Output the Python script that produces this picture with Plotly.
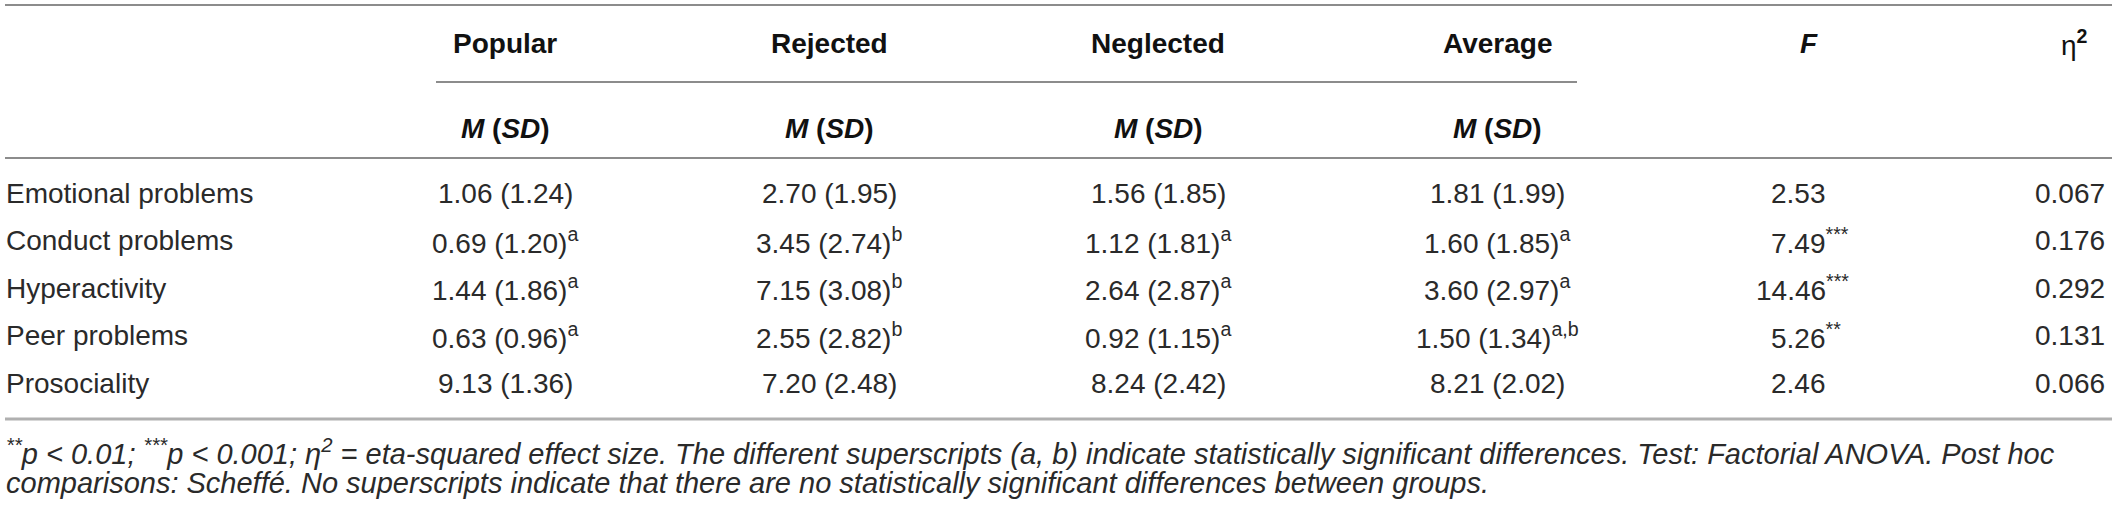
import plotly.graph_objects as go

# datos de la tabla
row_labels = ["Emotional problems", "Conduct problems", "Hyperactivity", "Peer problems", "Prosociality"]
group_names = ["Popular", "Rejected", "Neglected", "Average"]

popular_m = [1.06, 0.69, 1.44, 0.63, 9.13]
popular_sd = [1.24, 1.20, 1.86, 0.96, 1.36]
popular_sup = ["", "a", "a", "a", ""]

rejected_m = [2.70, 3.45, 7.15, 2.55, 7.20]
rejected_sd = [1.95, 2.74, 3.08, 2.82, 2.48]
rejected_sup = ["", "b", "b", "b", ""]

neglected_m = [1.56, 1.12, 2.64, 0.92, 8.24]
neglected_sd = [1.85, 1.81, 2.87, 1.15, 2.42]
neglected_sup = ["", "a", "a", "a", ""]

average_m = [1.81, 1.60, 3.60, 1.50, 8.21]
average_sd = [1.99, 1.85, 2.97, 1.34, 2.02]
average_sup = ["", "a", "a", "a,b", ""]

f_vals = [2.53, 7.49, 14.46, 5.26, 2.46]
f_stars = ["", "***", "***", "**", ""]
eta_sq = [0.067, 0.176, 0.292, 0.131, 0.066]

note_line1 = ("<sup>**</sup>p &lt; 0.01; <sup>***</sup>p &lt; 0.001; η<sup>2</sup> = eta-squared effect size. "
              "The different superscripts (a, b) indicate statistically significant differences. "
              "Test: Factorial ANOVA. Post hoc")
note_line2 = ("comparisons: Scheffé. No superscripts indicate that there are no statistically "
              "significant differences between groups.")

groups = [
    (popular_m, popular_sd, popular_sup),
    (rejected_m, rejected_sd, rejected_sup),
    (neglected_m, neglected_sd, neglected_sup),
    (average_m, average_sd, average_sup),
]

# layout (pixeles)
W, H = 2117, 510
FONT = "Liberation Sans, Arial, sans-serif"
FS = 28
TXT = "#2a2a2a"
HEAD = "#111111"
label_x = 4
group_x = [505, 829, 1158, 1497]
f_head_x = 1809
f_num_x = 1828      # borde derecho del numero F
star_w = 7.6        # ancho aprox. de un asterisco en superindice
eta_x = 2107
eta_head_x = 2074
head_y = 43
sub_y = 128
row_y0 = 193
row_h = 47.5
note_y = [452, 483]
line_x0, line_x1 = 5, 2112

fig = go.Figure()
ann = []

def add(x, y, text, anchor="center", size=FS, color=TXT):
    ann.append(dict(x=x, y=y, xref="x", yref="y", text=text, showarrow=False,
                    xanchor=anchor, yanchor="middle",
                    font=dict(family=FONT, size=size, color=color)))

# encabezados
for name, x in zip(group_names, group_x):
    add(x, head_y, "<b>" + name + "</b>", color=HEAD)
    add(x, sub_y, "<b><i>M</i> (<i>SD</i>)</b>", color=HEAD)
add(f_head_x, head_y, "<b><i>F</i></b>", color=HEAD)
add(eta_head_x, head_y, "η<sup><b>2</b></sup>", color=HEAD)

# filas
for i, label in enumerate(row_labels):
    y = row_y0 + i * row_h
    add(label_x, y, label, anchor="left")
    for (m, sd, sup), x in zip(groups, group_x):
        t = "%.2f (%.2f)" % (m[i], sd[i])
        if sup[i]:
            t += "<sup>" + sup[i] + "</sup>"
        add(x, y, t)
    # numero alineado a la derecha, estrellas colgando
    t = "%.2f" % f_vals[i]
    if f_stars[i]:
        t += "<sup>" + f_stars[i] + "</sup>"
    add(f_num_x + star_w * len(f_stars[i]), y, t, anchor="right")
    add(eta_x, y, "%.3f" % eta_sq[i], anchor="right")

# nota al pie
add(label_x, note_y[0], "<i>" + note_line1 + "</i>", anchor="left", size=29)
add(label_x, note_y[1], "<i>" + note_line2 + "</i>", anchor="left", size=29)

# lineas de la tabla
shapes = [
    dict(type="line", x0=line_x0, x1=line_x1, y0=5, y1=5, line=dict(color="#8c8c8c", width=2)),
    dict(type="line", x0=436, x1=1577, y0=82, y1=82, line=dict(color="#8c8c8c", width=2)),
    dict(type="line", x0=line_x0, x1=line_x1, y0=158, y1=158, line=dict(color="#8c8c8c", width=2)),
    dict(type="line", x0=line_x0, x1=line_x1, y0=419, y1=419, line=dict(color="#b0b0b0", width=3)),
]

fig.update_layout(
    width=W, height=H,
    margin=dict(l=0, r=0, t=0, b=0),
    paper_bgcolor="white", plot_bgcolor="white",
    xaxis=dict(range=[0, W], visible=False, fixedrange=True),
    yaxis=dict(range=[H, 0], visible=False, fixedrange=True),
    annotations=ann, shapes=shapes, showlegend=False,
)
# quitar el margen del body para que la figura ocupe la ventana entera
fig.write_html("out.html", config={"displayModeBar": False},
               post_script="document.body.style.margin='0';")
